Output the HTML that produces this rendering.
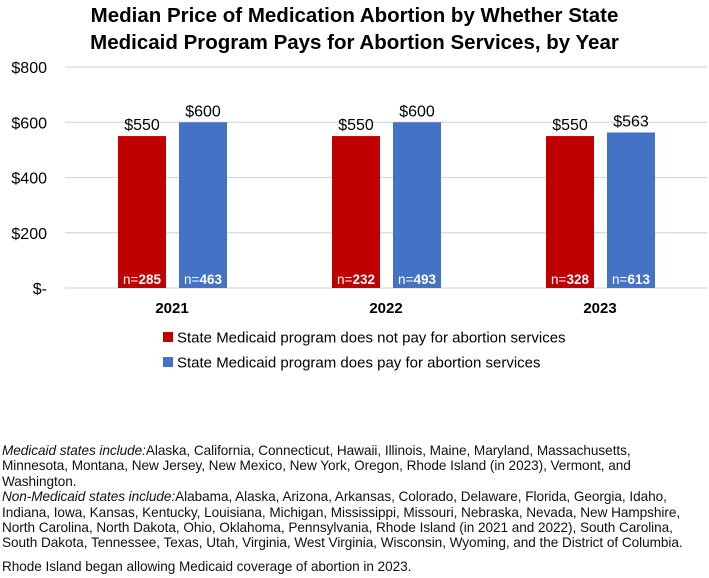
<!DOCTYPE html>
<html><head><meta charset="utf-8"><style>
body{margin:0;background:#fff;width:709px;height:578px;overflow:hidden;font-family:"Liberation Sans",Arial,sans-serif;position:relative}
#title{position:absolute;top:2px;left:0;width:709px;text-align:center;font-weight:bold;font-size:20.5px;line-height:27px;color:#000}
#notes{position:absolute;left:2px;top:443px;font-size:13.6px;line-height:15.4px;color:#111;white-space:nowrap;letter-spacing:-0.05px}
#notes div{height:15.4px}
</style></head><body>
<div id="title">Median Price of Medication Abortion by Whether State<br>Medicaid Program Pays for Abortion Services, by Year</div>
<svg id="chart" width="709" height="380" style="position:absolute;left:0;top:0"></svg>
<div id="notes">
<div><i>Medicaid states include:</i>Alaska, California, Connecticut, Hawaii, Illinois, Maine, Maryland, Massachusetts,</div>
<div>Minnesota, Montana, New Jersey, New Mexico, New York, Oregon, Rhode Island (in 2023), Vermont, and</div>
<div>Washington.</div>
<div><i>Non-Medicaid states include:</i>Alabama, Alaska, Arizona, Arkansas, Colorado, Delaware, Florida, Georgia, Idaho,</div>
<div>Indiana, Iowa, Kansas, Kentucky, Louisiana, Michigan, Mississippi, Missouri, Nebraska, Nevada, New Hampshire,</div>
<div>North Carolina, North Dakota, Ohio, Oklahoma, Pennsylvania, Rhode Island (in 2021 and 2022), South Carolina,</div>
<div>South Dakota, Tennessee, Texas, Utah, Virginia, West Virginia, Wisconsin, Wyoming, and the District of Columbia.</div>
<div style="height:8px"></div>
<div>Rhode Island began allowing Medicaid coverage of abortion in 2023.</div>
</div>
<script>
const categories=["2021","2022","2023"];
const seriesNames=["State Medicaid program does not pay for abortion services","State Medicaid program does pay for abortion services"];
const nonMedicaid=[550,550,550];
const medicaid=[600,600,563];
const nonMedicaidN=[285,232,328];
const medicaidN=[463,493,613];
const yTicks=[0,200,400,600,800];
const yTickLabels=["$-","$200","$400","$600","$800"];
const colors=["#C00000","#4472C4"];
const svg=document.getElementById('chart');
const NS="http://www.w3.org/2000/svg";
const y0=288,y1=67,x0=65,x1=707;
const yS=v=>y0-(v/800)*(y0-y1);
const bw=(x1-x0)/categories.length;
const xC=i=>x0+bw*(i+0.5);
function mk(t,a){const e=document.createElementNS(NS,t);for(const k in a)e.setAttribute(k,a[k]);svg.appendChild(e);return e;}
yTicks.forEach((t,i)=>{
 const l=mk('line',{x1:x0,x2:x1,y1:yS(t),y2:yS(t),stroke:'#d9d9d9','stroke-width':1.3});
 
 
 const tx=mk('text',{x:47,y:yS(t)+6,'text-anchor':'end','font-size':16,fill:'#000'});
 tx.textContent=yTickLabels[i];
 
 
});
const series=[[nonMedicaid,nonMedicaidN],[medicaid,medicaidN]];
categories.forEach((c,i)=>{
 series.forEach((s,j)=>{
  const v=s[0][i];const bx=xC(i)+(j===0?-54:7);
  const r=mk('rect',{x:bx,y:yS(v),width:48,height:y0-yS(v),fill:colors[j]});
  
  
  const t=mk('text',{x:bx+24,y:yS(v)-6,'text-anchor':'middle','font-size':16,fill:'#000'});
  t.textContent='$'+v;
  
  
  const n=mk('text',{x:bx+24,y:y0-4,'text-anchor':'middle','font-size':13.5,fill:'#fff'});
  n.innerHTML='n=<tspan font-weight="bold">'+s[1][i]+'</tspan>';
  
  
 });
 const ct=mk('text',{x:xC(i),y:313,'text-anchor':'middle','font-size':15,'font-weight':'bold',fill:'#000'});
 ct.textContent=c;
 
 
});
seriesNames.forEach((nm,j)=>{
 const yy=337+j*25;
 const sq=mk('rect',{x:163,y:yy-5,width:10,height:10,fill:colors[j]});
 
 
 const t=mk('text',{x:177,y:yy+5.5,'font-size':15,fill:'#000'});
 t.textContent=nm;
 
 
});
</script>
</body></html>
